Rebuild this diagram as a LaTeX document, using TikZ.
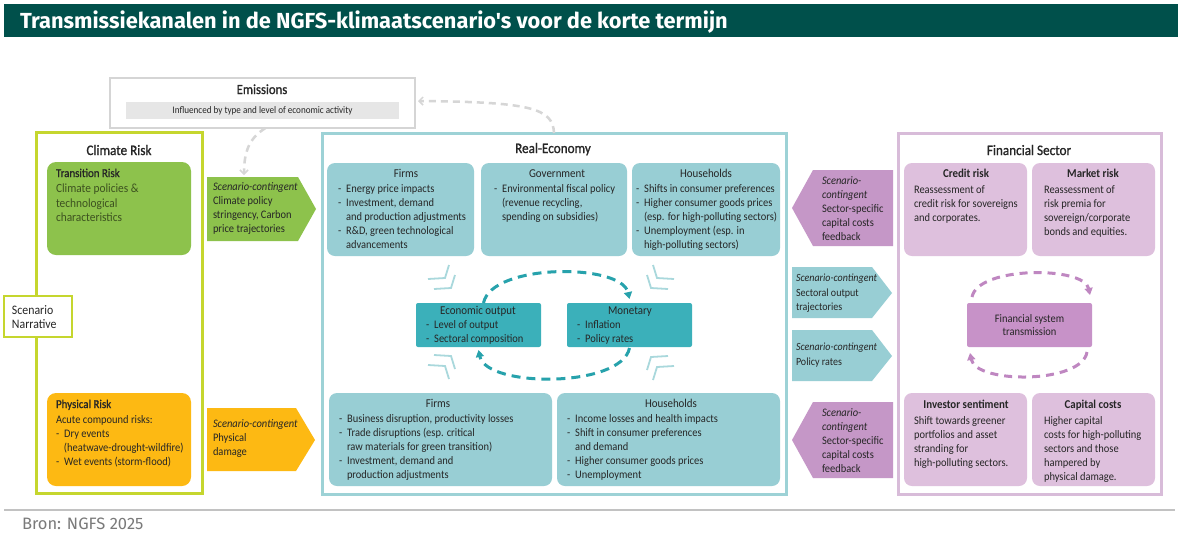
\documentclass[tikz,border=0pt]{standalone}
\usepackage{fontspec}
\setmainfont{Carlito}[FakeStretch=0.91]
\newfontfamily\medfont{Carlito}[FakeStretch=0.91,FakeBold=1]
\newfontfamily\titlefont{Fira Sans}
\usetikzlibrary{arrows.meta}
\definecolor{titlebg}{HTML}{00504B}
\definecolor{cgreen}{HTML}{8DC24C}
\definecolor{cborder}{HTML}{C5D62E}
\definecolor{corange}{HTML}{FDB913}
\definecolor{tlight}{HTML}{98CED4}
\definecolor{tborder}{HTML}{9DD2D6}
\definecolor{tdark}{HTML}{3BB0BA}
\definecolor{tdash}{HTML}{27A2AC}
\definecolor{tmark}{HTML}{A9D8DC}
\definecolor{parrow}{HTML}{C597C7}
\definecolor{plight}{HTML}{DEC0DD}
\definecolor{pborder}{HTML}{D8BCD9}
\definecolor{pdark}{HTML}{C792C8}
\definecolor{pdash}{HTML}{BF87C1}
\definecolor{gborder}{HTML}{D5D5D5}
\definecolor{gbar}{HTML}{E6E6E6}
\definecolor{gdash}{HTML}{D6D6D6}
\definecolor{txtc}{HTML}{262626}
\definecolor{greentxt}{HTML}{3D5220}
\definecolor{sepgray}{HTML}{C2C2C2}
\definecolor{brongray}{HTML}{7A7A7A}
\newcommand\bl{-\hspace{5pt}}
\newcommand\ind{\hspace*{8pt}}
\tikzset{
  bodytxt/.style={font=\fontsize{11.5}{14}\selectfont, text=txtc, align=left, anchor=north west, yshift=-3pt},
  headtxt/.style={font=\fontsize{12}{14}\selectfont, text=txtc, anchor=base},
  boldhead/.style={font=\bfseries\fontsize{12}{14}\selectfont, text=txtc, anchor=base},
  secttxt/.style={font=\medfont\fontsize{14.5}{16}\selectfont, text=txtc, anchor=base},
  tbox/.style={fill=tlight, rounded corners=8pt, anchor=north west},
  pbox/.style={fill=plight, rounded corners=8pt, anchor=north west},
  grayarrow/.style={draw=gdash, line width=2.5pt, dash pattern=on 7pt off 5pt, -{Straight Barb[length=4pt,width=8pt,line width=1.5pt]}},
  tloop/.style={draw=tdash, line width=3pt, dash pattern=on 9pt off 6pt, -{Triangle[length=7pt,width=8pt]}},
  ploop/.style={draw=pdash, line width=3pt, dash pattern=on 8pt off 6pt, -{Triangle[length=7pt,width=8pt]}},
  cmark/.pic={\draw[draw=tmark, line width=1.8pt] (-17,1) -- (0,0) -- (4,-13);}
}
\begin{document}
\begin{tikzpicture}[x=1pt,y=-1pt, every node/.append style={inner sep=0pt, outer sep=0pt}]
\useasboundingbox (0,0) rectangle (1183,539);
\fill[white] (0,0) rectangle (1183,539);

% title
\node[fill=titlebg, minimum width=1174pt, minimum height=33pt, anchor=north west] (titlebar) at (4,4) {};
\node[font=\titlefont\bfseries\fontsize{21.8}{24}\selectfont, text=white, anchor=base west] (title) at (20,28) {Transmissiekanalen in de NGFS-klimaatscenario's voor de korte termijn};

% emissions
\node[draw=gborder, line width=2pt, minimum width=305pt, minimum height=50pt, anchor=north west] (emis) at (110,78) {};
\node[secttxt, font=\medfont\fontsize{14}{16}\selectfont] (emisT) at (262,94) {Emissions};
\node[fill=gbar, minimum width=273pt, minimum height=17pt, anchor=north west] (emisbar) at (126,102) {};
\node[font=\fontsize{10}{12}\selectfont, text=txtc] (emistxt) at (emisbar.center) {Influenced by type and level of economic activity};

% climate risk
\node[draw=cborder, line width=3pt, minimum width=166pt, minimum height=361pt, anchor=north west] (climate) at (36,132) {};
\node[secttxt] (climT) at (119,155) {Climate Risk};
\node[fill=cgreen, rounded corners=9pt, minimum width=144pt, minimum height=93pt, anchor=north west] (trans) at (47,162) {};
\node[font=\medfont\fontsize{12}{14}\selectfont, text=txtc, anchor=base west] (transH) at (56,177) {Transition Risk};
\node[bodytxt, font=\fontsize{12.5}{14.5}\selectfont, text=greentxt] (transB) at (56,181) {Climate policies \&\\technological\\characteristics};
\node[fill=corange, rounded corners=9pt, minimum width=144pt, minimum height=93pt, anchor=north west] (phys) at (47,393) {};
\node[font=\medfont\fontsize{12}{14}\selectfont, text=txtc, anchor=base west] (physH) at (56,408) {Physical Risk};
\node[bodytxt] (physB) at (56,413) {Acute compound risks:\\\bl Dry events\\\ind(heatwave-drought-wildfire)\\\bl Wet events (storm-flood)};
\node[draw=cborder, line width=2pt, fill=white, minimum width=68pt, minimum height=41pt, anchor=north west] (narr) at (4,296) {};
\node[bodytxt, font=\fontsize{13}{14}\selectfont] (narrT) at (12,303) {Scenario\\Narrative};

% chevrons left
\fill[cgreen] (207,177) -- (298,177) -- (316,209) -- (298,241) -- (207,241) -- cycle;
\coordinate (gchevtop) at (244,175);
\node[bodytxt] (gchevT) at (213,180) {{\itshape Scenario-contingent}\\Climate policy\\stringency, Carbon\\price trajectories};
\fill[corange] (207,408) -- (296,408) -- (315,440) -- (296,471) -- (207,471) -- cycle;
\node[bodytxt] (ochevT) at (213,417) {{\itshape Scenario-contingent}\\Physical\\damage};

% real economy
\node[draw=tborder, line width=3pt, minimum width=464pt, minimum height=361pt, anchor=north west] (re) at (322,133) {};
\node[secttxt] (reT) at (553,153) {Real-Economy};
\node[tbox, minimum width=147pt, minimum height=93pt] (firmsT) at (327,163) {};
\node[tbox, minimum width=146pt, minimum height=93pt] (gov) at (481,163) {};
\node[tbox, minimum width=148pt, minimum height=93pt] (hhT) at (632,163) {};
\node[headtxt] (firmsTh) at (406,177) {Firms};
\node[bodytxt] (firmsTb) at (338,182) {\bl Energy price impacts\\\bl Investment, demand\\\ind and production adjustments\\\bl R\&D, green technological\\\ind advancements};
\node[headtxt] (govh) at (557,177) {Government};
\node[bodytxt] (govb) at (494,182) {\bl Environmental fiscal policy\\\ind(revenue recycling,\\\ind spending on subsidies)};
\node[headtxt] (hhTh) at (706,177) {Households};
\node[bodytxt] (hhTb) at (636,182) {\bl Shifts in consumer preferences\\\bl Higher consumer goods prices\\\ind(esp. for high-polluting sectors)\\\bl Unemployment (esp. in\\\ind high-polluting sectors)};

\node[fill=tdark, rounded corners=2pt, minimum width=125pt, minimum height=44pt, anchor=north west] (eco) at (416,303) {};
\node[fill=tdark, rounded corners=2pt, minimum width=125pt, minimum height=44pt, anchor=north west] (mon) at (567,303) {};
\node[headtxt] (ecoh) at (478,314) {Economic output};
\node[bodytxt] (ecob) at (426,318) {\bl Level of output\\\bl Sectoral composition};
\node[headtxt] (monh) at (630,314) {Monetary};
\node[bodytxt] (monb) at (577,318) {\bl Inflation\\\bl Policy rates};
\draw[tloop] ([xshift=5pt]eco.north) .. controls +(8,-40) and +(-8,-36) .. ([yshift=4pt]mon.north);
\draw[tloop] ([yshift=-1pt]mon.south) .. controls +(-8,40) and +(8,38) .. ([yshift=-3pt]eco.south);

\pic at (445,278) {cmark};
\pic at (451,288) {cmark};
\pic[xscale=-1] at (657,278) {cmark};
\pic[xscale=-1] at (651,288) {cmark};
\pic[yscale=-1] at (451,356) {cmark};
\pic[yscale=-1] at (445,366) {cmark};
\pic[xscale=-1,yscale=-1] at (651,357) {cmark};
\pic[xscale=-1,yscale=-1] at (657,367) {cmark};

\node[tbox, minimum width=223pt, minimum height=93pt] (firmsB) at (329,393) {};
\node[tbox, minimum width=223pt, minimum height=93pt] (hhB) at (557,393) {};
\node[headtxt] (firmsBh) at (438,407) {Firms};
\node[bodytxt] (firmsBb) at (339,412) {\bl Business disruption, productivity losses\\\bl Trade disruptions (esp. critical\\\ind raw materials for green transition)\\\bl Investment, demand and\\\ind production adjustments};
\node[headtxt] (hhBh) at (671,407) {Households};
\node[bodytxt] (hhBb) at (567,412) {\bl Income losses and health impacts\\\bl Shift in consumer preferences\\\ind and demand\\\bl Higher consumer goods prices\\\bl Unemployment};

% middle arrows
\fill[parrow] (893,170) -- (813,170) -- (792,208) -- (813,246) -- (893,246) -- cycle;
\node[bodytxt] (pa1) at (822,174) {{\itshape Scenario-}\\{\itshape contingent}\\Sector-specific\\capital costs\\feedback};
\fill[tlight] (792,267) -- (872,267) -- (892,293) -- (872,318) -- (792,318) -- cycle;
\node[bodytxt, font=\fontsize{11}{14.5}\selectfont] (ta1) at (796,271) {{\itshape Scenario-contingent}\\Sectoral output\\trajectories};
\fill[tlight] (792,330) -- (872,330) -- (892,356) -- (872,381) -- (792,381) -- cycle;
\node[bodytxt, font=\fontsize{11}{15}\selectfont] (ta2) at (796,340) {{\itshape Scenario-contingent}\\Policy rates};
\fill[parrow] (893,402) -- (813,402) -- (792,440) -- (813,478) -- (893,478) -- cycle;
\node[bodytxt] (pa2) at (822,406) {{\itshape Scenario-}\\{\itshape contingent}\\Sector-specific\\capital costs\\feedback};

% financial sector
\node[draw=pborder, line width=3pt, minimum width=263pt, minimum height=361pt, anchor=north west] (fin) at (898,133) {};
\node[secttxt] (finT) at (1029,155) {Financial Sector};
\node[pbox, minimum width=123pt, minimum height=93pt] (credit) at (904,163) {};
\node[pbox, minimum width=123pt, minimum height=93pt] (market) at (1032,163) {};
\node[boldhead] (credith) at (966,177) {Credit risk};
\node[bodytxt] (creditb) at (914,183) {Reassessment of\\credit risk for sovereigns\\and corporates.};
\node[boldhead] (marketh) at (1093,177) {Market risk};
\node[bodytxt] (marketb) at (1044,183) {Reassessment of\\risk premia for\\sovereign/corporate\\bonds and equities.};
\node[fill=pdark, rounded corners=2pt, minimum width=125pt, minimum height=44pt, anchor=north west] (fst) at (967,303) {};
\node[font=\fontsize{11.5}{13.5}\selectfont, text=txtc, align=center] (fstT) at (fst.center) {Financial system\\transmission};
\draw[ploop] ([shift={(5pt,6pt)}]fst.north west) .. controls +(6,-31) and +(-6,-29) .. ([shift={(-2pt,8pt)}]fst.north east);
\draw[ploop] ([shift={(-5pt,-5pt)}]fst.south east) .. controls +(-5,32) and +(6,31) .. ([shift={(3pt,-6pt)}]fst.south west);
\node[pbox, minimum width=123pt, minimum height=93pt] (invest) at (904,393) {};
\node[pbox, minimum width=123pt, minimum height=93pt] (capital) at (1032,393) {};
\node[boldhead] (investh) at (966,408) {Investor sentiment};
\node[bodytxt] (investb) at (914,414) {Shift towards greener\\portfolios and asset\\stranding for\\high-polluting sectors.};
\node[boldhead] (capitalh) at (1093,408) {Capital costs};
\node[bodytxt] (capitalb) at (1044,414) {Higher capital\\costs for high-polluting\\sectors and those\\hampered by\\physical damage.};

% gray dashed arrows
\draw[grayarrow] (re.north) .. controls (553,108) and (530,102) .. ([shift={(3pt,2pt)}]emis.east);
\draw[grayarrow] ([xshift=3pt]emis.south) .. controls +(-16,10) and +(0,-24) .. (gchevtop);

% footer
\draw[sepgray, line width=2pt] (4,510) -- (1175,510);
\node[font=\titlefont\fontsize{16.5}{18}\selectfont, text=brongray, anchor=base west] (bron) at (22,529) {Bron: NGFS 2025};
\end{tikzpicture}
\end{document}
